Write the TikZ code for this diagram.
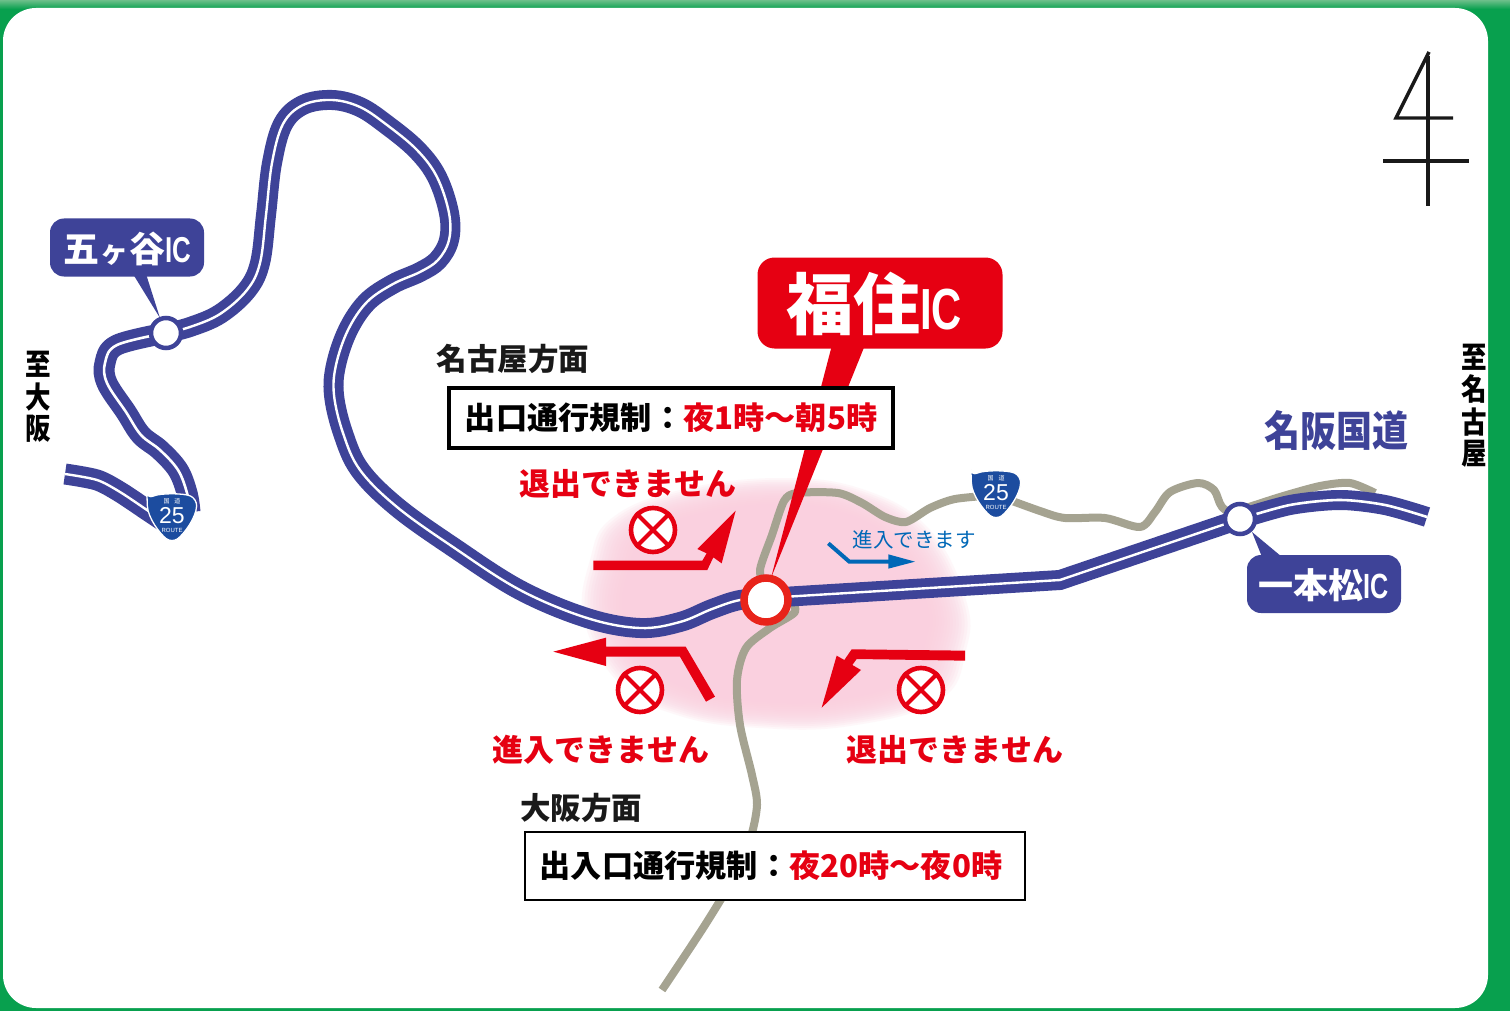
\documentclass[tikz,border=0pt]{standalone}
\usepackage{fontspec}
\usepackage{graphicx}
\setmainfont{Liberation Sans}
\newfontfamily\jp{Noto Sans CJK JP}
\definecolor{frameG}{HTML}{08A04E}
\definecolor{frameL}{HTML}{6CBF8A}
\definecolor{roadB}{HTML}{3E4398}
\definecolor{roadG}{HTML}{A5A391}
\definecolor{redC}{HTML}{E60012}
\definecolor{ringR}{HTML}{E8231A}
\definecolor{pinkC}{HTML}{FAD0DF}
\definecolor{blueT}{HTML}{0068B7}
\definecolor{shieldB}{HTML}{1C4C9F}
\newcommand{\narrowIC}[1]{\scalebox{0.72}[1]{\fontspec{Liberation Sans}\bfseries #1}}
\tikzset{
  x=1pt,y=-1pt,
  jptext/.style={font=\jp\bfseries,inner sep=0pt,outer sep=0pt,anchor=center},
  redlabel/.style={jptext,text=redC,font=\jp\bfseries\fontsize{31}{31}\selectfont},
  blacklabel/.style={jptext,text=black!90,font=\jp\bfseries\fontsize{30.5}{30.5}\selectfont},
  icbox/.style={fill=roadB,draw=none,rounded corners=14pt,minimum width=154pt,minimum height=58pt,inner sep=0pt},
  infobox/.style={draw=black,fill=white,inner sep=0pt},
  noentry/.style={circle,draw=redC,line width=4.6pt,fill=white,minimum size=44pt,inner sep=0pt},
  noX/.style={redC,line width=4pt},
  icdot/.style={circle,fill=white,draw=roadB,line width=4.5pt,minimum size=30pt,inner sep=0pt},
  roadblue/.style={roadB,line width=#1,line join=round},
  roadwhite/.style={white,line width=#1,line join=round},
  roadgrey/.style={roadG,line width=8pt,line join=round,line cap=butt},
  vertlabel/.style={jptext,text=black,font=\jp\bfseries\fontsize{30}{30}\selectfont},
  shield/.pic={
    \path[fill=shieldB,draw=white,line width=1.3pt,rounded corners=7pt]
      (-25,-19) .. controls (-12,-25) and (12,-25) .. (25,-19)
      .. controls (24,0) and (12,16) .. (0,25)
      .. controls (-12,16) and (-24,0) .. (-25,-19) -- cycle;
    \node[text=white,font=\fontsize{23}{23}\selectfont,inner sep=0pt] (-num) at (0,-2) {25};
    \node[text=white,font=\fontsize{6}{6}\selectfont,inner sep=0pt] (-rt) at (0,12) {ROUTE};
    \node[text=white,font=\jp\fontsize{6}{6}\selectfont,inner sep=0pt] (-kd) at (0,-17) {国\hspace{5pt}道};
  }
}
\def\blobpts{(590,560) (612,518) (680,490) (780,478) (865,490) (930,530) (966,600) (966,650) (940,700) (850,726) (760,728) (680,716) (620,684) (584,620)}
\def\roadW{(65,474) (97,480) (120,492) (147,510) (168,524)}
\def\roadX{(190,512) (187,493) (178,470) (160,450) (141,435) (126,412) (107,383) (105,363) (117,345) (166,333)}
\def\roadL{(166,333) (190,327) (220,314) (247,290) (260,263) (266,215) (272,163) (283,124) (303,105) (332,100) (360,107) (387,125) (417,150) (437,177) (449,213) (449,240) (438,260) (420,272) (393,284) (367,302) (348,330) (336,365) (334,395) (343,433) (360,470) (397,507) (453,547) (520,590) (587,618) (640,628) (680,622) (712,609) (740,600) (770,598)}
\def\roadE{(1240,519) (1290,505) (1340,500) (1385,505) (1427,517)}
\begin{document}
\begin{tikzpicture}
\useasboundingbox (0,0) rectangle (1510,1011);
\fill[frameG] (0,0) rectangle (1510,1011);
\shade[top color=frameL,bottom color=frameG] (0,0) rectangle (1510,9);
\fill[white,rounded corners=33pt] (3,8) rectangle (1488,1008);

% pink zone
\foreach \s in {1.00,0.985,0.97,0.955,0.94,0.925,0.91,0.895,0.88,0.865,0.85,0.835,0.82,0.805,0.79,0.775}{
  \fill[pinkC,opacity=0.16,shift={(775,603)},scale=\s,shift={(-775,-603)}]
    plot[smooth cycle,tension=0.7] coordinates {\blobpts};
}

% grey roads
\coordinate (icF) at (766,600);
\coordinate (icI) at (1240,519);
\coordinate (icG) at (166,333);
\draw[roadgrey] plot[smooth,tension=0.45] coordinates {(766,590) (760,570) (772,535) (784,501) (797,493) (838,493) (862,503) (885,517) (906,522) (930,508) (955,499) (996,495)};
\draw[roadgrey] plot[smooth,tension=0.5] coordinates {(996,495) (1040,511) (1065,518) (1105,518) (1140,527) (1155,512) (1170,492) (1198,483) (1214,490) (1222,507) (1240,520)};
\draw[roadgrey] plot[smooth,tension=0.45] coordinates {(1240,510) (1280,497) (1320,486) (1350,483) (1375,493)};
\draw[roadgrey] plot[smooth,tension=0.5] coordinates {(790,600) (795,612) (770,628) (746,648) (737,680) (740,725) (752,775) (757,805) (750,840) (735,875) (705,925) (662,990)};

% main road
\draw[roadblue=21pt] plot[smooth,tension=0.5] coordinates {\roadW};
\draw[roadwhite=2.4pt] plot[smooth,tension=0.5] coordinates {\roadW};
\draw[roadblue=21pt] plot[smooth,tension=0.6] coordinates {\roadX};
\draw[roadwhite=2.6pt] plot[smooth,tension=0.6] coordinates {\roadX};
\draw[roadblue=20pt] plot[smooth,tension=0.6] coordinates {\roadL};
\draw[roadwhite=2.4pt] plot[smooth,tension=0.6] coordinates {\roadL};
\draw[roadblue=20pt,line join=miter] (766,598) -- (1060,580) -- (1240,519);
\draw[roadwhite=2.4pt] (766,598) -- (1060,580) -- (1240,519);
\draw[roadblue=20pt] plot[smooth,tension=0.5] coordinates {\roadE};
\draw[roadwhite=2.6pt] plot[smooth,tension=0.5] coordinates {\roadE};

% shields
\pic (sa) at (172,518) {shield};
\pic (sb) at (996,495) {shield};

% north
\coordinate (nT) at (1429,52);
\coordinate (nB) at (1428,206);
\coordinate (nL) at (1396,118);
\coordinate (nR) at (1453,118);
\draw[black!90,line width=3.8pt] (1428,56) -- (nB);
\draw[black!90,line width=4.6pt] (1383,161) -- (1469,161);
\draw[black!90,line width=3.4pt,line join=miter] (nT) -- (nL) -- (nR);

% IC tails and boxes
\fill[roadB] (133,274) -- (146,274) -- (160,318) -- cycle;
\fill[roadB] (1252,532) -- (1262,557) -- (1282,557) -- cycle;
\node[icbox] (gokaya) at (127,247.5) {};
\node[jptext,text=white,font=\jp\bfseries\fontsize{36}{36}\selectfont] (gokayaT) at (127,249) {五{\fontsize{28}{28}\selectfont\hspace{1pt}ヶ\hspace{1pt}}谷\narrowIC{IC}};
\node[icbox] (ippon) at (1324,584) {};
\node[jptext,text=white,font=\jp\bfseries\fontsize{35}{35}\selectfont] (ipponT) at (1324,585) {一本松\narrowIC{IC}};
\node[icdot] (dotG) at (icG) {};
\node[icdot] (dotI) at (icI) {};

% pink-zone arrows
\begin{scope}[shift={(500,440)},x=0.33333pt,y=-0.33333pt]
  \fill[redC] (280,362) -- (607,362) -- (620,340) -- (592,327) -- (707,212) -- (665,370) -- (640,352) -- (622,390) -- (280,390) -- cycle;
  \fill[redC] (160,635) -- (318,593) -- (318,620) -- (557,620) -- (645,770) -- (618,785) -- (540,650) -- (318,650) -- (318,678) -- cycle;
  \fill[redC] (1395,632) -- (1055,628) -- (1033,660) -- (1010,647) -- (965,803) -- (1083,690) -- (1057,675) -- (1070,657) -- (1395,662) -- cycle;
  \draw[blueT,line width=4pt,line join=miter] (985,310) -- (1048,365) -- (1170,365);
  \fill[blueT] (1245,365) -- (1165,343) -- (1165,386) -- cycle;
\end{scope}

% no-entry signs
\foreach \n/\cx/\cy in {nea/653/530,neb/640/690,nec/921/690}{
  \node[noentry] (\n) at (\cx,\cy) {};
  \draw[noX] (\n.45) -- (\n.225);
  \draw[noX] (\n.135) -- (\n.315);
}

% Fukuzumi callout
\fill[redC] (832,345) -- (865,345) -- (771,578) -- cycle;
\node[fill=redC,rounded corners=17pt,minimum width=245pt,minimum height=91pt,inner sep=0pt] (fuku) at (880,303) {};
\node[jptext,text=white,font=\jp\bfseries\fontsize{67}{67}\selectfont] (fukuT) at (874,304) {福住\scalebox{0.72}[1]{\fontsize{58}{58}\fontspec{Liberation Sans}\bfseries IC}};
\node[circle,fill=white,draw=ringR,line width=7.5pt,minimum size=44pt,inner sep=0pt] (fdot) at (icF) {};

% info boxes
\node[infobox,line width=4.5pt,minimum width=444pt,minimum height=60pt] (boxN) at (671,418) {};
\node[jptext,font=\jp\bfseries\fontsize{31.2}{31.2}\selectfont] (boxNT) at (671,418) {出口通行規制：\textcolor{redC}{夜1時～朝5時}};
\node[infobox,line width=2.4pt,minimum width=500pt,minimum height=68pt] (boxO) at (775,866) {};
\node[jptext,font=\jp\bfseries\fontsize{31.2}{31.2}\selectfont] (boxOT) at (771,866) {出入口通行規制：\textcolor{redC}{夜20時～夜0時}};

% labels
\node[blacklabel] (lN) at (513,359) {名古屋方面};
\node[blacklabel] (lO) at (581,808) {大阪方面};
\node[redlabel] (lA) at (628,484) {退出できません};
\node[redlabel] (lB) at (601,750) {進入できません};
\node[redlabel] (lC) at (955,750) {退出できません};
\node[jptext,text=blueT,font=\jp\fontsize{20.5}{20.5}\selectfont] (lD) at (914,540) {進入できます};
\node[jptext,text=roadB,font=\jp\bfseries\fontsize{36}{36}\selectfont] (lM) at (1336,431) {\scalebox{1}[1.16]{名阪国道}};
\node[vertlabel] (vA1) at (38,364) {\scalebox{.85}[1]{至}};
\node[vertlabel] (vA2) at (38,397) {\scalebox{.85}[1]{大}};
\node[vertlabel] (vA3) at (38,429) {\scalebox{.85}[1]{阪}};
\node[vertlabel] (vB1) at (1474,357) {\scalebox{.85}[1]{至}};
\node[vertlabel] (vB2) at (1474,389) {\scalebox{.85}[1]{名}};
\node[vertlabel] (vB3) at (1474,422) {\scalebox{.85}[1]{古}};
\node[vertlabel] (vB4) at (1474,454) {\scalebox{.85}[1]{屋}};
\end{tikzpicture}
\end{document}
